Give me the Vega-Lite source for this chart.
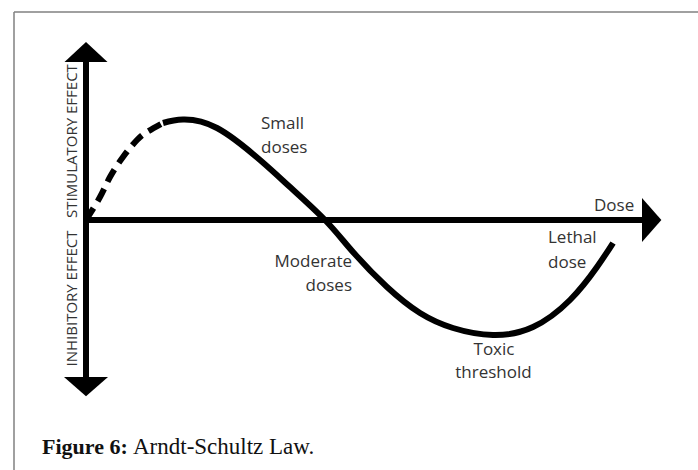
{
  "$schema": "https://vega.github.io/schema/vega-lite/v6.json",
  "width": 698,
  "height": 470,
  "padding": 0,
  "autosize": {"type": "none"},
  "background": "white",
  "config": {"view": {"stroke": null}},
  "datasets": {
    "frame": [
      {"x": -1.44, "y": 2.08, "x2": -1.44, "y2": -2.5},
      {"x": -1.44, "y": 2.08, "x2": 12.24, "y2": 2.08}
    ],
    "axes": [
      {"x": 0, "y": -1.6, "x2": 0, "y2": 1.6},
      {"x": -0.05, "y": 0, "x2": 11.2, "y2": 0}
    ],
    "up": [{"x": 0, "y": 1.58}],
    "down": [{"x": 0, "y": -1.57}],
    "right": [{"x": 11.12, "y": 0}],
    "dashed": [
      {"x": 0, "y": 0},
      {"x": 0.28, "y": 0.23},
      {"x": 0.48, "y": 0.43},
      {"x": 0.74, "y": 0.63},
      {"x": 1.02, "y": 0.8},
      {"x": 1.22, "y": 0.88},
      {"x": 1.54, "y": 0.97}
    ],
    "solid": [
      {"x": 1.54, "y": 0.97},
      {"x": 1.94, "y": 1.005},
      {"x": 2.62, "y": 0.92},
      {"x": 3.48, "y": 0.6},
      {"x": 4.08, "y": 0.33},
      {"x": 4.78, "y": 0},
      {"x": 5.34, "y": -0.32},
      {"x": 6.02, "y": -0.67},
      {"x": 6.68, "y": -0.93},
      {"x": 7.34, "y": -1.08},
      {"x": 8.14, "y": -1.15},
      {"x": 8.94, "y": -1.07},
      {"x": 9.68, "y": -0.8},
      {"x": 10.22, "y": -0.47},
      {"x": 10.54, "y": -0.23}
    ],
    "leftLabels": [
      {"label": "Small", "x": 3.5, "y": 0.91},
      {"label": "doses", "x": 3.5, "y": 0.67},
      {"label": "Lethal", "x": 9.24, "y": -0.23},
      {"label": "dose", "x": 9.24, "y": -0.48},
      {"label": "Dose", "x": 10.16, "y": 0.09}
    ],
    "rightLabels": [
      {"label": "Moderate", "x": 5.32, "y": -0.47},
      {"label": "doses", "x": 5.32, "y": -0.71}
    ],
    "centerLabels": [
      {"label": "Toxic", "x": 8.16, "y": -1.35},
      {"label": "threshold", "x": 8.15, "y": -1.58}
    ],
    "vertLabels": [
      {"label": "STIMULATORY EFFECT", "x": -0.28, "y": 0.79},
      {"label": "INHIBITORY EFFECT", "x": -0.28, "y": -0.785}
    ],
    "captionBold": [{"label": "Figure 6:", "x": -0.88, "y": -2.34}],
    "captionRegular": [{"label": "Arndt-Schultz Law.", "x": 0.94, "y": -2.34}]
  },
  "encoding": {
    "x": {"field": "x", "type": "quantitative", "scale": {"domain": [-1.72, 12.24], "nice": false, "zero": false}, "axis": null},
    "y": {"field": "y", "type": "quantitative", "scale": {"domain": [-2.5, 2.2], "nice": false, "zero": false}, "axis": null}
  },
  "layer": [
    {
      "data": {"name": "frame"},
      "mark": {"type": "rule", "color": "#808080", "strokeWidth": 1.5},
      "encoding": {"x2": {"field": "x2"}, "y2": {"field": "y2"}}
    },
    {
      "data": {"name": "axes"},
      "mark": {"type": "rule", "color": "black", "strokeWidth": 6},
      "encoding": {"x2": {"field": "x2"}, "y2": {"field": "y2"}}
    },
    {
      "data": {"name": "up"},
      "mark": {"type": "point", "shape": "M-1,0L1,0L0,-0.93Z", "size": 1849, "filled": true, "color": "black", "opacity": 1, "strokeWidth": 0}
    },
    {
      "data": {"name": "down"},
      "mark": {"type": "point", "shape": "M-1,0L1,0L0,0.88Z", "size": 1936, "filled": true, "color": "black", "opacity": 1, "strokeWidth": 0}
    },
    {
      "data": {"name": "right"},
      "mark": {"type": "point", "shape": "M0,-1L0,1L0.88,0Z", "size": 1936, "filled": true, "color": "black", "opacity": 1, "strokeWidth": 0}
    },
    {
      "data": {"name": "dashed"},
      "mark": {"type": "line", "color": "black", "strokeWidth": 6, "strokeDash": [14, 8], "strokeCap": "butt", "interpolate": "natural"}
    },
    {
      "data": {"name": "solid"},
      "mark": {"type": "line", "color": "black", "strokeWidth": 6, "strokeCap": "butt", "interpolate": "natural"}
    },
    {
      "data": {"name": "leftLabels"},
      "mark": {"type": "text", "font": "Open Sans", "fontSize": 17, "color": "#333333", "align": "left", "baseline": "alphabetic"},
      "encoding": {"text": {"field": "label"}}
    },
    {
      "data": {"name": "rightLabels"},
      "mark": {"type": "text", "font": "Open Sans", "fontSize": 17, "color": "#333333", "align": "right", "baseline": "alphabetic"},
      "encoding": {"text": {"field": "label"}}
    },
    {
      "data": {"name": "centerLabels"},
      "mark": {"type": "text", "font": "Open Sans", "fontSize": 17, "color": "#333333", "align": "center", "baseline": "alphabetic"},
      "encoding": {"text": {"field": "label"}}
    },
    {
      "data": {"name": "vertLabels"},
      "mark": {"type": "text", "font": "Open Sans", "fontSize": 15, "color": "#333333", "align": "center", "baseline": "middle", "angle": 270},
      "encoding": {"text": {"field": "label"}}
    },
    {
      "data": {"name": "captionBold"},
      "mark": {"type": "text", "font": "Liberation Serif", "fontSize": 22, "fontWeight": "bold", "color": "#111111", "align": "left", "baseline": "alphabetic"},
      "encoding": {"text": {"field": "label"}}
    },
    {
      "data": {"name": "captionRegular"},
      "mark": {"type": "text", "font": "Liberation Serif", "fontSize": 23, "color": "#111111", "align": "left", "baseline": "alphabetic"},
      "encoding": {"text": {"field": "label"}}
    }
  ]
}
